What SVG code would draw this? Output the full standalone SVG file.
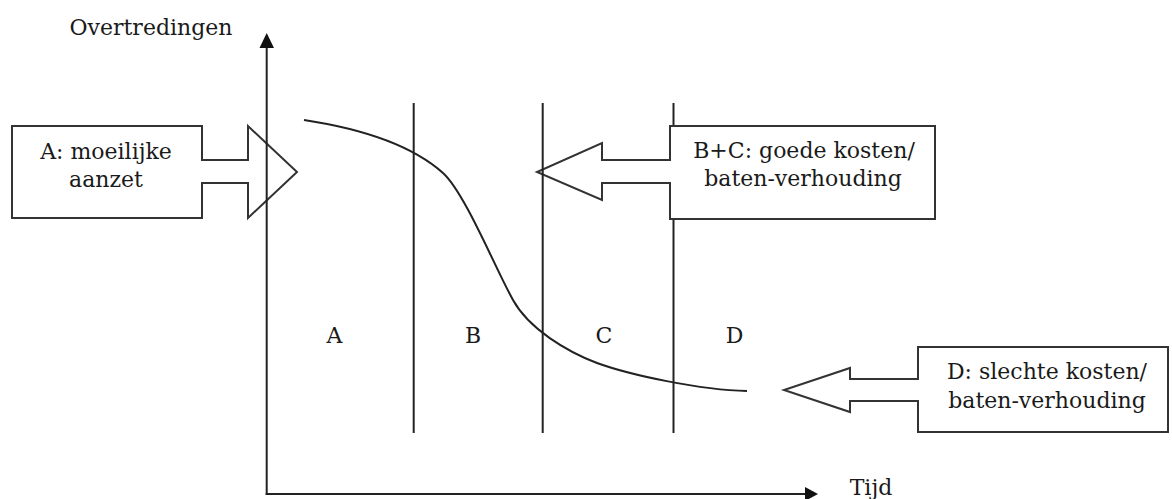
<svg xmlns="http://www.w3.org/2000/svg" width="1172" height="499" viewBox="0 0 1172 499">
  <style>
    .ln { stroke: #222; stroke-width: 2; fill: none; }
    .box { stroke: #333; stroke-width: 2; fill: #fff; stroke-linejoin: miter; }
    .ah { fill: #111; stroke: none; }
    text { font-family: "DejaVu Serif", "Liberation Serif", serif; font-size: 22px; fill: #1a1a1a; text-anchor: middle; }
  </style>
  <rect width="1172" height="499" fill="#fff"/>
  <g id="separator-d">
    <line class="ln" x1="673.5" y1="103" x2="673.5" y2="433"/>
  </g>
  <g id="node-a">
    <polygon class="box" points="12,126 202,126 202,160 248,160 248,126 297,172 248,218 248,183 202,183 202,218 12,218"/>
    <text x="106" y="159">A: moeilijke</text>
    <text x="106" y="187">aanzet</text>
  </g>
  <g id="node-bc">
    <polygon class="box" points="935,126 670,126 670,160 602,160 602,143 537,172 602,200 602,183 670,183 670,219 935,219"/>
    <text x="804" y="158">B+C: goede kosten/</text>
    <text x="803" y="186">baten-verhouding</text>
  </g>
  <g id="node-d">
    <polygon class="box" points="1168,347 918,347 918,379 850,379 850,368 784,390 850,412 850,401 918,401 918,432 1168,432"/>
    <text x="1047" y="379">D: slechte kosten/</text>
    <text x="1047" y="408">baten-verhouding</text>
  </g>
  <g id="connectors">
    <line class="ln" x1="266.7" y1="46" x2="266.7" y2="495"/>
    <polygon class="ah" points="266.7,33 259.5,48 274,48"/>
    <line class="ln" x1="265.7" y1="494" x2="807" y2="494"/>
    <polygon class="ah" points="818,494 805,487 805,501"/>
    <line class="ln" x1="413.7" y1="103" x2="413.7" y2="433"/>
    <line class="ln" x1="542.7" y1="103" x2="542.7" y2="433"/>
    <path class="ln" d="M304,120 C370,130 415,148 443,173 C465,193 496,270 513,300 C529,329 567,351.5 597,363 C630,375 700,390 747,391"/>
  </g>
  <g id="labels">
    <text x="151" y="35">Overtredingen</text>
    <text x="871" y="495">Tijd</text>
    <text x="334.5" y="343">A</text>
    <text x="473" y="343">B</text>
    <text x="604" y="343">C</text>
    <text x="734.5" y="343">D</text>
  </g>
</svg>
